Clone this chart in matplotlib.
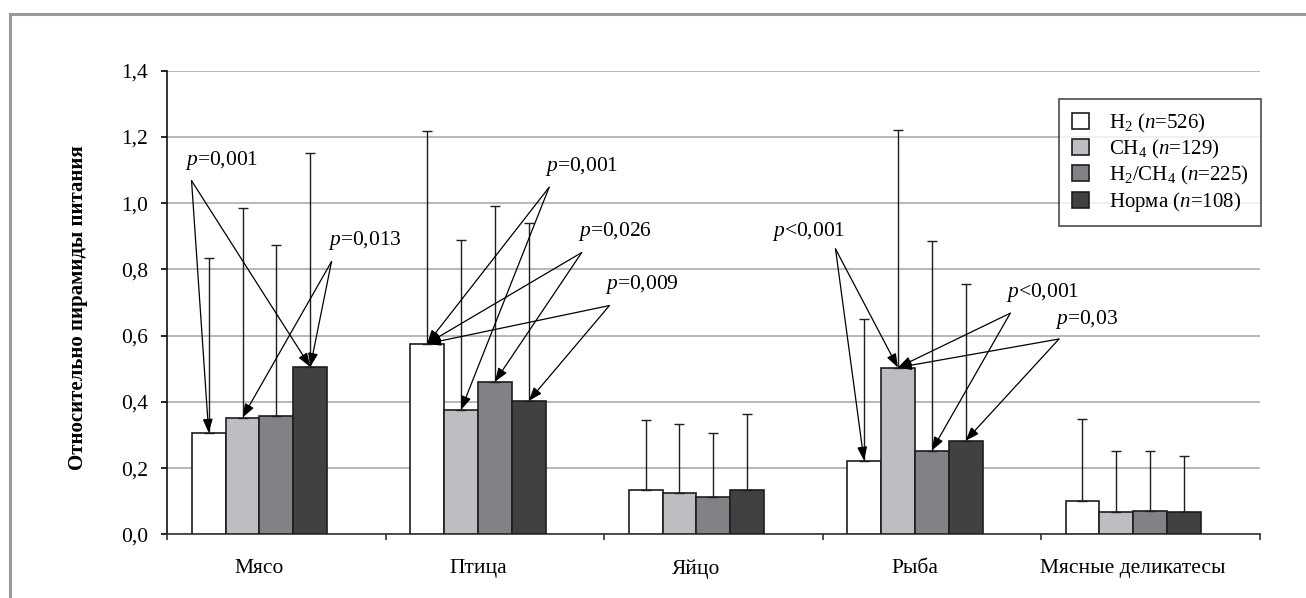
import matplotlib
matplotlib.use('Agg')
import matplotlib.pyplot as plt
import numpy as np
from matplotlib.ticker import FuncFormatter, MultipleLocator, FixedLocator
from matplotlib.lines import Line2D

plt.rcParams['font.family'] = 'Liberation Serif'
plt.rcParams['mathtext.fontset'] = 'custom'
plt.rcParams['mathtext.rm'] = 'Liberation Serif'
plt.rcParams['mathtext.it'] = 'Liberation Serif:italic'
plt.rcParams['mathtext.bf'] = 'Liberation Serif:bold'

# ==== Data ====
categories = ['Мясо', 'Птица', 'Яйцо', 'Рыба', 'Мясные деликатесы']
series_labels = [r'H$_2$ ($n$=526)', r'CH$_4$ ($n$=129)',
                 r'H$_2$/CH$_4$ ($n$=225)', r'Норма ($n$=108)']

h2_mean = [0.307, 0.576, 0.133, 0.223, 0.102]
ch4_mean = [0.353, 0.376, 0.125, 0.504, 0.068]
mix_mean = [0.357, 0.461, 0.114, 0.253, 0.072]
norm_mean = [0.506, 0.403, 0.133, 0.283, 0.068]

h2_sd = [0.528, 0.641, 0.213, 0.427, 0.247]
ch4_sd = [0.632, 0.513, 0.210, 0.717, 0.185]
mix_sd = [0.517, 0.532, 0.191, 0.632, 0.181]
norm_sd = [0.646, 0.536, 0.232, 0.473, 0.169]

means = [h2_mean, ch4_mean, mix_mean, norm_mean]
sds = [h2_sd, ch4_sd, mix_sd, norm_sd]
colors = ['#ffffff', '#bdbec1', '#808285', '#414141']

# p-value labels: text, category index, pair of compared series
p_labels = ['$p$=0,001', '$p$=0,013', '$p$=0,001', '$p$=0,026', '$p$=0,009',
            '$p$<0,001', '$p$<0,001', '$p$=0,03']
p_category = [0, 0, 1, 1, 1, 3, 3, 3]
p_pairs = [(0, 3), (1, 3), (0, 1), (0, 2), (0, 3), (0, 1), (1, 2), (1, 3)]

# where each label sits and where its arrows start (data coords)
p_text_xy = [(-0.341, 1.13), (0.314, 0.887), (1.307, 1.111), (1.458, 0.915),
             (1.582, 0.754), (2.345, 0.915), (3.416, 0.729), (3.641, 0.648)]
p_arrow_from = [(-0.311, 1.068), (0.330, 0.824), (1.326, 1.048), (1.475, 0.851),
                (1.602, 0.691), (2.637, 0.862), (3.437, 0.668), (3.660, 0.590)]

# ==== Plot ====
fig = plt.figure(figsize=(13.06, 5.98), dpi=100)
ax = fig.add_axes([0.1281, 0.1062, 0.8363, 0.7756])

x = np.arange(len(categories))
width = 0.155
offsets = (np.arange(4) - 1.5) * width

for i in range(4):
    ax.bar(x + offsets[i], means[i], width, color=colors[i], edgecolor='#1e1e1e',
           linewidth=1.2, label=series_labels[i], zorder=3)
    ax.errorbar(x + offsets[i], means[i],
                yerr=[np.zeros(len(categories)), sds[i]],
                fmt='none', ecolor='#1e1e1e', elinewidth=1.0, capsize=3.6,
                capthick=1.0, zorder=4)

for k in range(len(p_labels)):
    ax.text(p_text_xy[k][0], p_text_xy[k][1], p_labels[k], fontsize=15.5,
            ha='left', va='center', zorder=6)
    c = p_category[k]
    for s in p_pairs[k]:
        ax.annotate('', xy=(x[c] + offsets[s], means[s][c]), xytext=p_arrow_from[k],
                    arrowprops=dict(arrowstyle='-|>,head_length=0.55,head_width=0.2',
                                    color='black', lw=0.9, shrinkA=0, shrinkB=0,
                                    mutation_scale=15),
                    zorder=5)

# axes styling
ax.set_xlim(-0.422, 4.578)
ax.set_ylim(0, 1.4)
ax.yaxis.set_major_locator(MultipleLocator(0.2))
ax.yaxis.set_major_formatter(FuncFormatter(lambda v, p: f'{v:.1f}'.replace('.', ',')))
ax.grid(axis='y', color='#ababab', linewidth=1.2, zorder=0)
ax.set_axisbelow(True)

ax.set_xticks(x)
ax.set_xticklabels(categories)
ax.xaxis.set_minor_locator(FixedLocator(np.arange(6) - 0.422))
ax.tick_params(axis='x', which='major', length=0, pad=18, labelsize=15.5)
ax.tick_params(axis='x', which='minor', length=4, width=1.2, direction='out', color='#333333')
ax.tick_params(axis='y', length=4, width=1.2, pad=10, labelsize=15.5)

for side in ['top', 'right']:
    ax.spines[side].set_visible(False)
ax.spines['left'].set_linewidth(1.2)
ax.spines['left'].set_color('#111111')
ax.spines['bottom'].set_linewidth(1.2)
ax.spines['bottom'].set_color('#333333')

ax.set_ylabel('Относительно пирамиды питания', fontsize=15, fontweight='bold')
ax.yaxis.set_label_coords(-0.0726, 0.49)

leg = ax.legend(loc='upper right', bbox_to_anchor=(1.0014, 0.939), borderaxespad=0,
                fontsize=15, frameon=True, fancybox=False, handlelength=0.85,
                handleheight=0.8, handletextpad=0.95, labelspacing=0.15, borderpad=0.6)
leg.get_frame().set_edgecolor('#1e1e1e')
leg.get_frame().set_linewidth(1.2)

# page frame
fx = 9.5 / 1306
fy = 1 - 14 / 598
fig.add_artist(Line2D([fx, fx], [0, fy], color='#9a9a9a', lw=2.2))
fig.add_artist(Line2D([fx, 1], [fy, fy], color='#9a9a9a', lw=2.2))

fig.savefig('out.png', dpi=100)
